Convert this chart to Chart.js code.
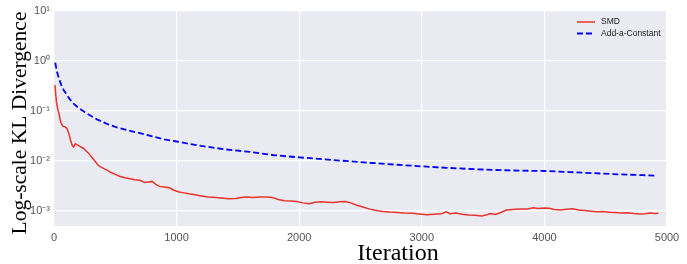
<!DOCTYPE html>
<html>
<head>
<meta charset="utf-8">
<script src="https://cdn.jsdelivr.net/npm/chart.js@4/dist/chart.umd.min.js"></script>
<style>
  html, body { margin: 0; padding: 0; background: #fff; }
  #wrap { width: 687px; height: 264px; }
</style>
</head>
<body>
<div id="wrap"><canvas id="myChart" width="687" height="264"></canvas></div>
<script>
// SMD curve (red, solid)
const smdIter = [8, 12, 20, 30, 40, 55, 70, 90, 105, 120, 135, 150, 160, 175, 190, 205, 220, 240, 260, 280,
  300, 320, 340, 360, 380, 400, 420, 440, 470, 500, 540, 580, 620, 660, 700, 740, 770, 800, 830, 860,
  900, 940, 980, 1020, 1060, 1100, 1150, 1200, 1260, 1320, 1380, 1430, 1480, 1530, 1570, 1620, 1680, 1730, 1780, 1830,
  1880, 1930, 1980, 2030, 2080, 2130, 2180, 2230, 2280, 2330, 2380, 2420, 2470, 2520, 2570, 2620, 2680, 2740, 2800, 2860,
  2920, 2980, 3040, 3100, 3160, 3200, 3230, 3280, 3330, 3380, 3430, 3490, 3530, 3560, 3600, 3640, 3690, 3740, 3800, 3860,
  3910, 3950, 4000, 4040, 4080, 4130, 4180, 4230, 4280, 4330, 4380, 4430, 4480, 4530, 4580, 4630, 4680, 4730, 4780, 4820,
  4860, 4900, 4930];
const smdKL = [0.33, 0.25, 0.15, 0.11, 0.09, 0.06, 0.05, 0.048, 0.045, 0.036, 0.026, 0.02, 0.019, 0.022, 0.021, 0.02, 0.019, 0.018, 0.016, 0.0145,
  0.0125, 0.011, 0.0095, 0.0082, 0.0076, 0.0072, 0.0068, 0.0064, 0.0058, 0.0054, 0.0049, 0.0046, 0.0044, 0.0042, 0.0041, 0.0037, 0.0038, 0.0039, 0.0034, 0.0031,
  0.0030, 0.0029, 0.0026, 0.0024, 0.0023, 0.0022, 0.0021, 0.0020, 0.0019, 0.00185, 0.0018, 0.00175, 0.00178, 0.00185, 0.0019, 0.00185, 0.0019, 0.0019, 0.00185, 0.0017,
  0.0016, 0.00158, 0.00155, 0.00145, 0.0014, 0.0015, 0.00152, 0.0015, 0.00148, 0.00152, 0.00155, 0.00145, 0.0013, 0.0012, 0.0011, 0.00103, 0.00098, 0.00095, 0.00093, 0.00091,
  0.0009, 0.00087, 0.00084, 0.00086, 0.00088, 0.00096, 0.00088, 0.00091, 0.00086, 0.00083, 0.00082, 0.00079, 0.00084, 0.00089, 0.00085, 0.00092, 0.00104, 0.00107, 0.0011, 0.0011,
  0.00116, 0.00112, 0.00114, 0.00113, 0.00107, 0.00105, 0.00108, 0.00111, 0.00104, 0.00102, 0.00099, 0.00096, 0.00097, 0.00094, 0.00093, 0.00091, 0.00092, 0.00089, 0.00087, 0.00088,
  0.00091, 0.00089, 0.0009];

// Add-a-Constant curve (blue, dashed)
const aacIter = [10, 25, 40, 60, 80, 100, 130, 160, 200, 250, 300, 350, 400, 450, 500, 600, 700, 800, 900, 1000,
  1200, 1400, 1600, 1800, 2000, 2200, 2400, 2600, 2800, 3000, 3200, 3400, 3600, 3800, 4000, 4200, 4400, 4600, 4800, 4900];
const aacKL = [0.92, 0.6, 0.45, 0.33, 0.26, 0.22, 0.17, 0.14, 0.115, 0.095, 0.08, 0.068, 0.06, 0.053, 0.048, 0.041, 0.036, 0.031, 0.027, 0.0245,
  0.02, 0.017, 0.0152, 0.013, 0.0118, 0.0108, 0.0099, 0.0091, 0.0084, 0.0078, 0.0073, 0.0069, 0.0066, 0.0064, 0.0063, 0.006, 0.0057, 0.0054, 0.0052, 0.0051];

const yTicks = [1e-3, 1e-2, 1e-1, 1, 10];
const yTickLabels = ['10\u207B\u00B3', '10\u207B\u00B2', '10\u207B\u00B9', '10\u2070', '10\u00B9'];
const xTicks = [0, 1000, 2000, 3000, 4000, 5000];

const seriesNames = ['SMD', 'Add-a-Constant'];
const seriesColors = ['#e8352b', '#0000ff'];

const toPoints = (xs, ys) => xs.map((x, i) => ({ x: x, y: ys[i] }));

// seaborn style background + inside legend + axis labels
const plotDeco = {
  id: 'plotDeco',
  beforeDraw(chart) {
    const { ctx, chartArea: a } = chart;
    ctx.save();
    ctx.fillStyle = '#eaeaf2';
    ctx.fillRect(a.left, a.top, a.right - a.left, a.bottom - a.top);
    ctx.restore();
  },
  afterDraw(chart) {
    const { ctx } = chart;
    ctx.save();
    // legend
    const lx = 577, ly = [22, 33.5];
    ctx.font = '8.5px "Liberation Sans", Arial, sans-serif';
    ctx.textBaseline = 'middle';
    seriesNames.forEach((name, i) => {
      ctx.strokeStyle = seriesColors[i];
      ctx.lineWidth = i === 0 ? 1.5 : 1.8;
      ctx.setLineDash(i === 0 ? [] : [6, 3]);
      ctx.beginPath();
      ctx.moveTo(lx, ly[i]);
      ctx.lineTo(lx + 18, ly[i]);
      ctx.stroke();
      ctx.fillStyle = '#222';
      ctx.fillText(name, lx + 24, ly[i]);
    });
    ctx.setLineDash([]);
    // x axis label
    ctx.font = '24px "Liberation Serif", "Times New Roman", serif';
    ctx.fillStyle = '#000';
    ctx.textAlign = 'center';
    ctx.textBaseline = 'alphabetic';
    ctx.fillText('Iteration', 398, 260);
    // y axis label
    ctx.translate(25.5, 123);
    ctx.rotate(-Math.PI / 2);
    ctx.font = '21.5px "Liberation Serif", "Times New Roman", serif';
    ctx.fillText('Log-scale KL Divergence', 0, 0);
    ctx.restore();
  }
};

const ctx = document.getElementById('myChart').getContext('2d');

new Chart(ctx, {
  type: 'line',
  data: {
    datasets: [{
      label: seriesNames[0],
      data: toPoints(smdIter, smdKL),
      borderColor: seriesColors[0],
      borderWidth: 1.5,
      pointRadius: 0,
      tension: 0
    }, {
      label: seriesNames[1],
      data: toPoints(aacIter, aacKL),
      borderColor: seriesColors[1],
      borderWidth: 1.8,
      borderDash: [6, 3],
      pointRadius: 0,
      tension: 0
    }]
  },
  options: {
    responsive: false,
    animation: false,
    devicePixelRatio: 1,
    layout: { padding: { top: 11, right: 20, left: 0, bottom: 0 } },
    plugins: { legend: { display: false }, tooltip: { enabled: false } },
    scales: {
      x: {
        type: 'linear',
        min: 0,
        max: 5000,
        afterBuildTicks: (s) => { s.ticks = xTicks.map(v => ({ value: v })); },
        afterFit: (s) => { s.height = 38; },
        border: { display: false },
        grid: { color: '#ffffff', lineWidth: 1.2, drawTicks: false },
        ticks: {
          padding: 5,
          color: '#555',
          font: { family: '"Liberation Sans", Arial, sans-serif', size: 11 },
          maxRotation: 0,
          callback: (v) => String(v)
        }
      },
      y: {
        type: 'logarithmic',
        min: 5e-4,
        max: 10,
        afterBuildTicks: (s) => { s.ticks = yTicks.map(v => ({ value: v, major: true })); },
        afterFit: (s) => { s.width = 54; },
        border: { display: false },
        grid: { color: '#ffffff', lineWidth: 1.2, drawTicks: false },
        ticks: {
          padding: 4,
          color: '#555',
          font: { family: '"Liberation Sans", Arial, sans-serif', size: 11 },
          callback: (v) => {
            const i = yTicks.findIndex(t => Math.abs(t - v) / t < 1e-6);
            return i >= 0 ? yTickLabels[i] : '';
          }
        }
      }
    }
  },
  plugins: [plotDeco]
});
</script>
</body>
</html>
